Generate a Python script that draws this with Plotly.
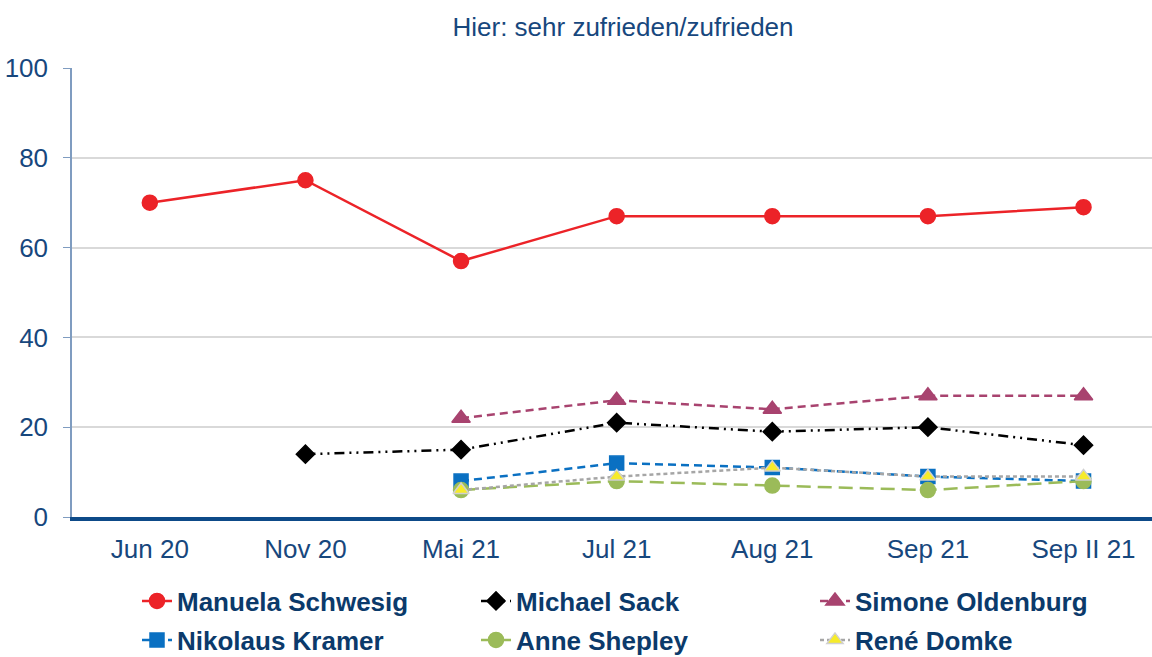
import plotly.graph_objects as go

categories = ["Jun 20", "Nov 20", "Mai 21", "Jul 21", "Aug 21", "Sep 21", "Sep II 21"]
schwesig = [70, 75, 57, 67, 67, 67, 69]
sack = [None, 14, 15, 21, 19, 20, 16]
oldenburg = [None, None, 22, 26, 24, 27, 27]
kramer = [None, None, 8, 12, 11, 9, 8]
shepley = [None, None, 6, 8, 7, 6, 8]
domke = [None, None, 6, 9, 11, 9, 9]
y_ticks = [0, 20, 40, 60, 80, 100]
title_text = "Hier: sehr zufrieden/zufrieden"

TXT = "#17477D"
LEG = "#0B3A6B"
FONT = "Liberation Sans, Arial, sans-serif"

fig = go.Figure()

series = [
    ("Manuela Schwesig", schwesig, "#EC2328", "solid", "circle", 15, "#EC2328", "#EC2328", "legend"),
    ("Michael Sack", sack, "#000000", "10px,5px,2px,5px,2px,5px", "diamond", 14, "#000000", "#000000", "legend"),
    ("Simone Oldenburg", oldenburg, "#A8436F", "8px,5px", "triangle-up", 16, "#A8436F", "#A8436F", "legend"),
    ("Nikolaus Kramer", kramer, "#0A70C2", "8px,5px", "square", 14, "#0A70C2", "#0A70C2", "legend2"),
    ("Anne Shepley", shepley, "#9BBB59", "14px,7px", "circle", 15, "#9BBB59", "#9BBB59", "legend2"),
    ("René Domke", domke, "#A6A6A6", "4px,3px", "triangle-up", 14, "#F6EB2A", "#D0D0D0", "legend2"),
]

for name, vals, col, dash, sym, size, mfill, mline, leg in series:
    fig.add_trace(go.Scatter(
        x=categories, y=vals, name=name, mode="lines+markers",
        line=dict(color=col, width=2.5, dash=dash),
        marker=dict(symbol=sym, size=size, color=mfill, line=dict(color=mline, width=1.5)),
        connectgaps=False, legend=leg,
    ))

legend_common = dict(orientation="h", x=(137-72)/1080, xanchor="left", yanchor="middle",
                     entrywidth=294, entrywidthmode="pixels",
                     font=dict(family=FONT, size=26, color=LEG, weight="bold"),
                     bgcolor="rgba(0,0,0,0)", itemclick=False, borderwidth=0)

fig.update_layout(
    width=1152, height=657,
    margin=dict(l=72, r=0, t=68, b=140, autoexpand=False),
    paper_bgcolor="white", plot_bgcolor="white",
    font=dict(family=FONT, color=TXT, size=26),
    title=dict(text=title_text, x=623/1152, xanchor="center", y=1-27/657, yanchor="middle",
               font=dict(family=FONT, size=26, color=TXT)),
    xaxis=dict(type="category", categoryorder="array", categoryarray=categories,
               range=[-0.5, 6.44], showgrid=False, showline=True, linecolor="#0D4A88", linewidth=4,
               ticks="", tickfont=dict(family=FONT, size=26, color=TXT), ticklabelstandoff=6,
               zeroline=False, automargin=False),
    yaxis=dict(range=[0, 100], tickvals=y_ticks, showgrid=True, gridcolor="#D9D9D9", gridwidth=1.5,
               showline=True, linecolor="#7F9CC0", linewidth=1.5, ticks="outside", ticklen=7,
               tickcolor="#7F9CC0", tickfont=dict(family=FONT, size=26, color=TXT),
               ticklabelstandoff=10, zeroline=False, automargin=False),
    legend=dict(y=-(601-517)/449, **legend_common),
    legend2=dict(y=-(640-517)/449, **legend_common),
    showlegend=True,
)

fig.write_html("out.html", config={"displayModeBar": False},
               post_script="document.body.style.margin='0';document.body.style.overflow='hidden';")
